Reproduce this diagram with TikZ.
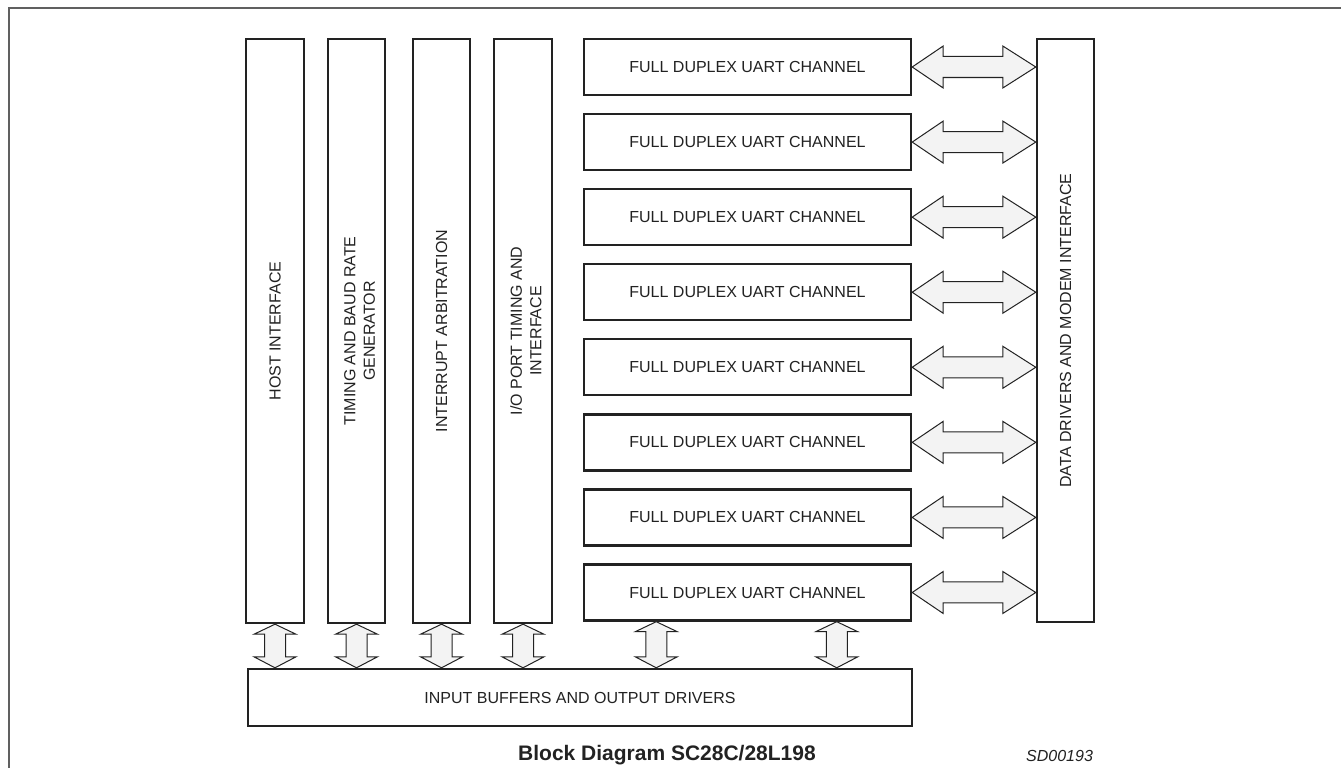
\documentclass[tikz,border=0pt]{standalone}
\usepackage{fontspec}
\setmainfont{Liberation Sans}
\usetikzlibrary{calc}
\definecolor{ink}{HTML}{222222}
\definecolor{busfill}{HTML}{F3F3F3}
\definecolor{framegray}{HTML}{606060}
\tikzset{
  blk/.style={draw=ink, line width=2.4pt, fill=white, inner sep=0pt, text=ink,
    font=\fontsize{16}{19}\selectfont},
  vlbl/.style={rotate=90, align=center, text=ink, inner sep=0pt,
    font=\fontsize{16}{19.5}\selectfont},
  bus/.style={draw=ink, line width=1pt, fill=busfill, line join=miter},
  frameline/.style={draw=framegray, line width=2pt}
}
\newcommand\hbus[2]{\draw[bus] let \p1=(#1), \p2=(#2) in
  (\x1,\y1) -- (\x1+31pt,\y1+21pt) -- (\x1+31pt,\y1+10.5pt) -- (\x2-33pt,\y1+10.5pt)
  -- (\x2-33pt,\y1+21pt) -- (\x2,\y1) -- (\x2-33pt,\y1-21pt) -- (\x2-33pt,\y1-10.5pt)
  -- (\x1+31pt,\y1-10.5pt) -- (\x1+31pt,\y1-21pt) -- cycle;}
\newcommand\vbus[2]{\draw[bus] let \p1=(#1), \p2=(#2) in
  (\x1,\y1) -- (\x1-21pt,\y1-10pt) -- (\x1-10.5pt,\y1-10pt) -- (\x1-10.5pt,\y2+11pt)
  -- (\x1-21pt,\y2+11pt) -- (\x1,\y2) -- (\x1+21pt,\y2+11pt) -- (\x1+10.5pt,\y2+11pt)
  -- (\x1+10.5pt,\y1-10pt) -- (\x1+21pt,\y1-10pt) -- cycle;}
\begin{document}
\begin{tikzpicture}[x=1pt,y=-1pt]
\useasboundingbox (0,0) rectangle (1341,768);
\fill[white] (0,0) rectangle (1341,768);
\draw[frameline] (8.5,768) -- (8.5,8.5) -- (1341,8.5);

% vertical blocks
\node[blk, minimum width=57.5pt, minimum height=584pt] (host) at (275,331) {};
\node[vlbl] (hostl) at (host) {HOST INTERFACE};
\node[blk, minimum width=57.5pt, minimum height=584pt] (timing) at (356.5,331) {};
\node[vlbl] (timingl) at ($(timing)+(3,0)$) {TIMING AND BAUD RATE\\GENERATOR};
\node[blk, minimum width=57.5pt, minimum height=584pt] (intr) at (441.5,331) {};
\node[vlbl] (intrl) at (intr) {INTERRUPT ARBITRATION};
\node[blk, minimum width=57.5pt, minimum height=584pt] (io) at (523,331) {};
\node[vlbl] (iol) at ($(io)+(3,0)$) {I/O PORT TIMING AND\\INTERFACE};

% UART channels
\foreach \i in {1,...,8}{
  \node[blk, minimum width=327pt, minimum height=56pt] (u\i) at (747.5,{67+75.07*(\i-1)}) {FULL DUPLEX UART CHANNEL};
}

% data drivers
\node[blk, minimum width=57pt, minimum height=583pt] (dd) at (1065.5,330.5) {};
\node[vlbl] (ddl) at (dd) {DATA DRIVERS AND MODEM INTERFACE};

% bottom buffer
\node[blk, minimum width=664pt, minimum height=57pt] (bot) at (580,697.5) {INPUT BUFFERS AND OUTPUT DRIVERS};

% horizontal buses
\foreach \i in {1,...,8}{
  \hbus{u\i.east}{dd.west |- u\i.east}
}

% vertical buses
\vbus{host.south}{host.south |- bot.north}
\vbus{timing.south}{timing.south |- bot.north}
\vbus{intr.south}{intr.south |- bot.north}
\vbus{io.south}{io.south |- bot.north}
\coordinate (ua) at ($(u8.south west)!0.223!(u8.south east)$);
\coordinate (ub) at ($(u8.south west)!0.771!(u8.south east)$);
\vbus{ua}{ua |- bot.north}
\vbus{ub}{ub |- bot.north}

% captions
\node[anchor=base, text=ink, inner sep=0pt, font=\fontsize{21}{24}\selectfont\bfseries] (title) at (667,760) {Block Diagram SC28C/28L198};
\node[anchor=base west, text=ink, inner sep=0pt, font=\fontsize{16}{19}\selectfont\itshape] (code) at (1026,761) {SD00193};
\end{tikzpicture}
\end{document}
